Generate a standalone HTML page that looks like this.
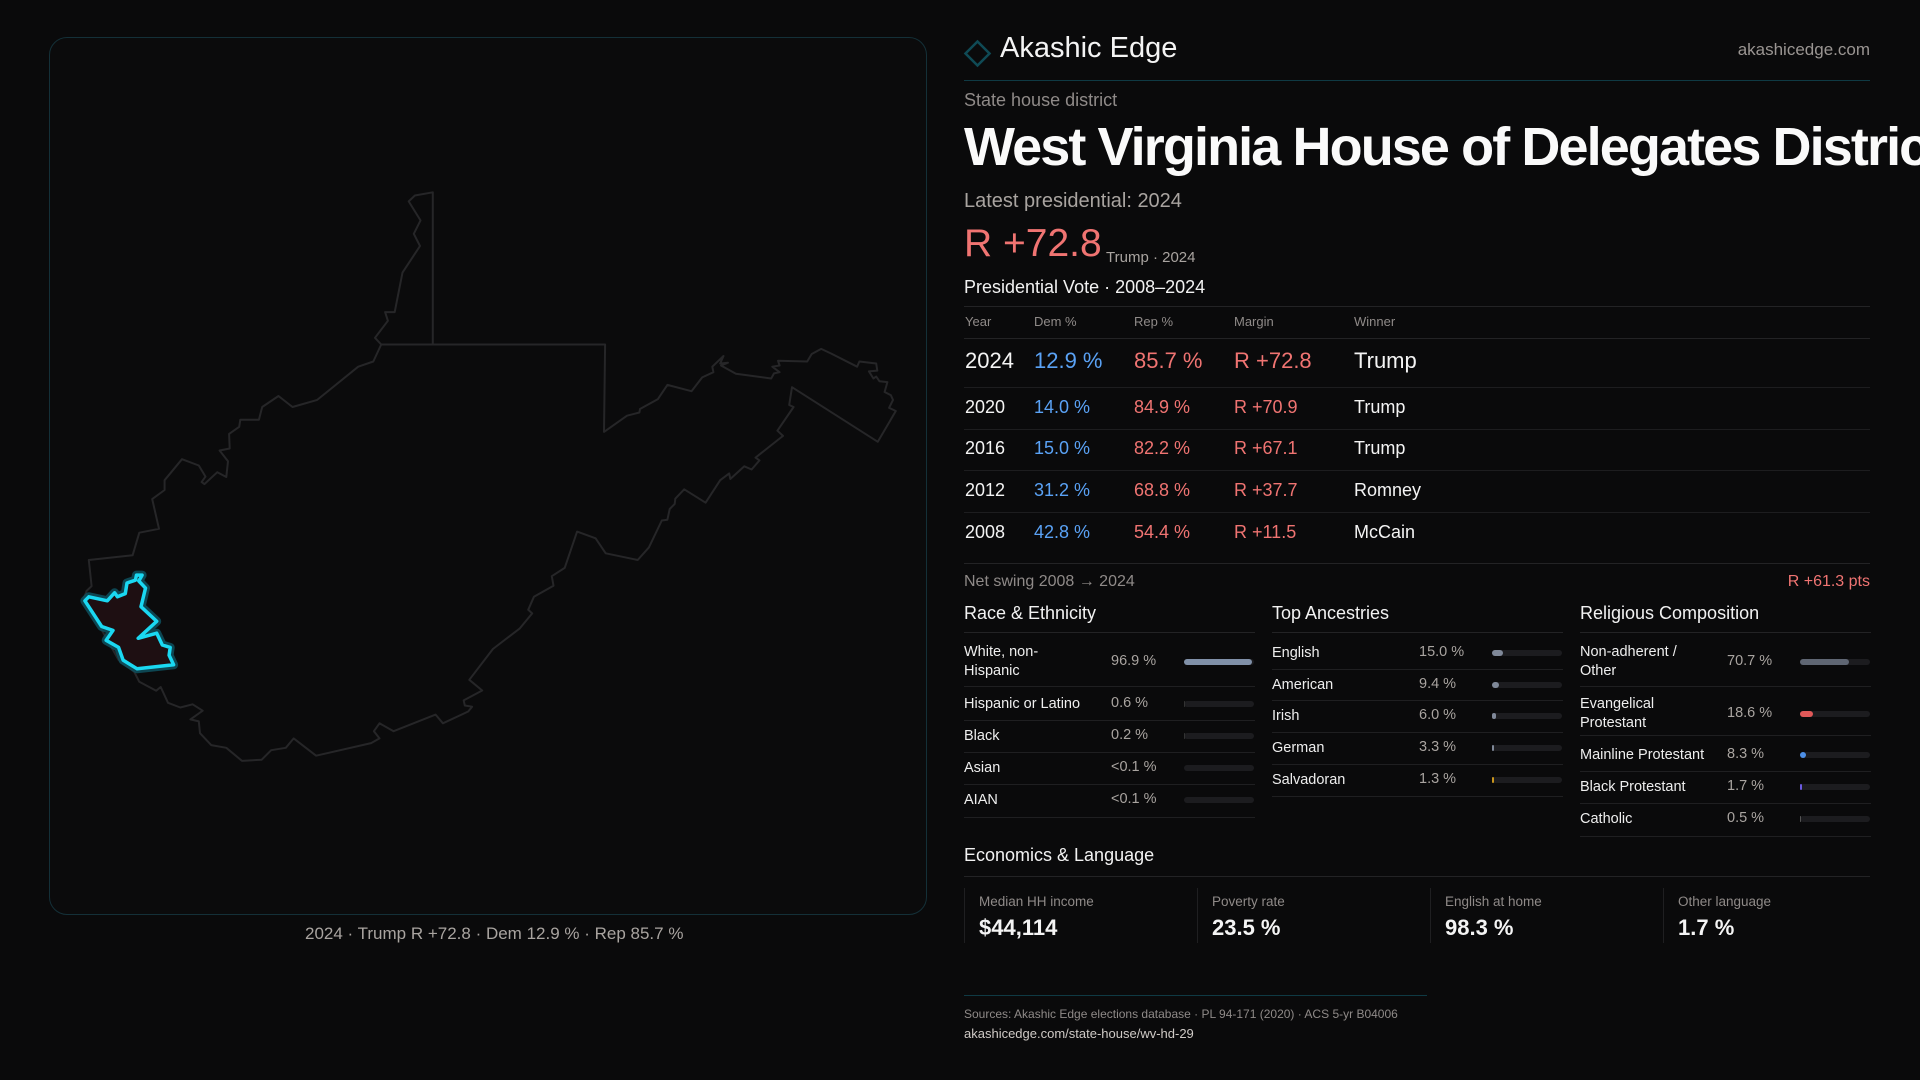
<!DOCTYPE html>
<html><head><meta charset="utf-8">
<style>
*{margin:0;padding:0;box-sizing:border-box}
body{width:1920px;height:1080px;background:#0a0a0b;overflow:hidden;position:relative;font-family:"Liberation Sans",sans-serif;color:#f2f2f2}
.a{position:absolute;white-space:nowrap}
.g{color:#8f8a88}
.sep{position:absolute;height:1px;background:#232325}
.red{color:#f07472}.blue{color:#5aa2f5}
</style></head><body>
<div class="a" style="left:49px;top:37px;width:878px;height:878px;border:1px solid #143038;border-radius:18px;background:#0b0b0c"></div>
<svg class="a" style="left:0;top:0" width="1920" height="1080" viewBox="0 0 1920 1080">
<path fill="none" stroke="#262628" stroke-width="2" stroke-linejoin="round" d="M381.2,344.5 L375,337.8 387.9,320.8 385.1,312.1 394.7,312.1 402.5,272.6 420,246 413.8,233.8 420.5,220.4 408.7,201.4 414.9,195.5 432.8,192.3 432.8,344.5 M381.2,344.5 L605.1,344.5 604,431.9 627,415.7 639.4,412.5 640,409 657.9,399.1 667.4,384.9 691.5,391.2 702.2,377.4 713.4,372.2 712.3,366.7 723.5,356 720.2,363.5 728,362.7 721,365.5 735.9,373.8 771.2,378.5 774,373.4 779.6,372.2 772.3,366.7 779.6,365.5 778,360.8 807.2,361.5 811.7,354 821.2,348.9 831.3,353.6 857.1,366.7 859.4,361.5 876.2,363.5 877.3,370.6 868.9,371.4 873.4,378.5 876.2,376.6 879.5,381.3 887.4,382.1 884.6,392 890.8,395.1 893,399.9 889.1,407.8 895.8,411 877.8,441.8 792,387.2 789.2,405 793.6,407 777.4,430.7 783,435.9 755.5,457.6 759.5,460.4 751.6,469.5 744.3,466.3 730.3,479 729.2,473.4 720.2,480.2 705.6,502.7 684.2,489.3 675.3,498.7 674.7,503.9 669.7,509 667.4,519.7 661.8,520.5 648.9,547.4 637.7,560 605.7,553.3 595.6,538.3 577.1,531.6 564.7,567.9 551.8,576.2 553.5,585.7 533.9,596.8 528.2,609.8 532.2,613.4 519.8,628.4 492.9,649 469.3,679.8 482.2,690.5 463.7,700.4 464.8,705.5 472.1,706.7 468.2,711.5 442.9,723.3 435.6,714.6 393.6,731.2 379.5,723.3 373.9,731.2 379.5,738.4 371.1,743.1 316.1,755.7 293.7,738.4 285.8,747.8 271.2,750.2 261.7,759.7 242,760.9 226.3,747.8 211.2,745.1 200,733.2 198.8,721.4 190.4,719.4 202.7,710.7 192.6,704.3 180.3,707.5 168,702.8 160.7,687 156.2,690.7 139.3,681.8 134.3,672 118.6,660 101.7,630 84,598 86.6,590.9 91.6,586.1 88.8,560 132.6,555.3 139.3,532.7 159,528.8 152.2,499.1 164.6,490 164.6,480.2 182,459.2 198.8,465.5 205.5,476.6 201.6,482.1 204.4,484.1 217.3,472.2 226.3,477 228,461.2 219.6,450.5 229.7,448.5 229.1,433.9 239.2,426.8 240.3,419.7 258.9,419.7 262.2,407 278.5,396 292.5,407 317.2,399.9 358.2,366.7 373.3,361.5 Z"/>
<path fill="none" stroke="#0e5564" stroke-width="9" stroke-linejoin="round" opacity="0.8" d="M136.5,575.1 142.1,575.1 138.8,581 145.5,588.1 141,606.7 156.7,621.3 138.2,638.3 156.7,633.2 162.3,645 170.2,647.4 169.1,655.3 173.6,664.8 137.1,668.8 123.1,660.1 118.6,647.4 106.2,640.3 113,630.4 101.7,626.5 84.9,600.8 88.8,596.8 107.3,600.8 114.6,592.8 117.4,596.8 125.3,593.6 127,583 135.4,580.2Z"/>
<path fill="#1e0f12" stroke="#1ad8f2" stroke-width="3.5" stroke-linejoin="round" d="M136.5,575.1 142.1,575.1 138.8,581 145.5,588.1 141,606.7 156.7,621.3 138.2,638.3 156.7,633.2 162.3,645 170.2,647.4 169.1,655.3 173.6,664.8 137.1,668.8 123.1,660.1 118.6,647.4 106.2,640.3 113,630.4 101.7,626.5 84.9,600.8 88.8,596.8 107.3,600.8 114.6,592.8 117.4,596.8 125.3,593.6 127,583 135.4,580.2Z"/>
<rect x="969" y="45" width="17" height="17" transform="rotate(45 977.5 53.5)" fill="none" stroke="#0f4a55" stroke-width="2.5"/>
</svg>
<div class="a g" style="left:305px;top:924px;font-size:17px;color:#a9a4a0">2024 · Trump R +72.8 · Dem 12.9 % · Rep 85.7 %</div>

<div class="a" style="left:1000px;top:32px;font-size:29px;font-weight:500;color:#f4f4f4">Akashic Edge</div>
<div class="a g" style="right:50px;top:40px;font-size:17px;color:#9a9592">akashicedge.com</div>
<div class="sep" style="left:964px;top:80px;width:906px;background:#0f3a44"></div>
<div class="a g" style="left:964px;top:90px;font-size:18px">State house district</div>
<div class="a" style="left:964px;top:112px;width:956px;height:70px;overflow:hidden">
<div class="a" style="left:0;top:4px;font-size:54px;font-weight:bold;letter-spacing:-1.9px;color:#fafafa">West Virginia House of Delegates District 29</div>
</div>
<div class="a g" style="left:964px;top:190px;font-size:20px;color:#a9a4a0">Latest presidential: 2024</div>
<div class="a red" style="left:964px;top:222px;font-size:39px;font-weight:500">R +72.8</div>
<div class="a g" style="left:1106px;top:249px;font-size:15px;color:#a9a4a0">Trump · 2024</div>
<div class="a" style="left:964px;top:277px;font-size:18px;font-weight:500">Presidential Vote · 2008–2024</div>
<div class="sep" style="left:964px;top:306px;width:906px"></div>
<div class="sep" style="left:964px;top:563px;width:906px"></div>
<div class="a g" style="left:964px;top:573px;font-size:16px">Net swing 2008 → 2024</div>
<div class="a red" style="right:50px;top:573px;font-size:16px">R +61.3 pts</div>

<div class="a" style="left:964px;top:603px;font-size:18px;font-weight:500">Race &amp; Ethnicity</div>
<div class="a" style="left:1272px;top:603px;font-size:18px;font-weight:500">Top Ancestries</div>
<div class="a" style="left:1580px;top:603px;font-size:18px;font-weight:500">Religious Composition</div>

<div class="a" style="left:964px;top:845px;font-size:18px;font-weight:500">Economics &amp; Language</div>
<div class="sep" style="left:964px;top:876px;width:906px"></div>
<div class="sep" style="left:964px;top:995px;width:463px;background:#0f3a44"></div>
<div class="a g" style="left:964px;top:1007px;font-size:12px">Sources: Akashic Edge elections database · PL 94-171 (2020) · ACS 5-yr B04006</div>
<div class="a" style="left:964px;top:1026px;font-size:13px;color:#cfcac6">akashicedge.com/state-house/wv-hd-29</div>

<script>
const years=["2024","2020","2016","2012","2008"];
const demPct=[12.9,14.0,15.0,31.2,42.8];
const repPct=[85.7,84.9,82.2,68.8,54.4];
const margins=[72.8,70.9,67.1,37.7,11.5];
const winners=["Trump","Trump","Trump","Romney","McCain"];
const raceLabels=["White, non-\nHispanic","Hispanic or Latino","Black","Asian","AIAN"];
const raceValues=[96.9,0.6,0.2,0.05,0.05];
const raceText=["96.9 %","0.6 %","0.2 %","<0.1 %","<0.1 %"];
const ancLabels=["English","American","Irish","German","Salvadoran"];
const ancValues=[15.0,9.4,6.0,3.3,1.3];
const ancColors=["#7f8898","#7f8898","#7f8898","#7f8898","#c9951e"];
const relLabels=["Non-adherent /\nOther","Evangelical\nProtestant","Mainline Protestant","Black Protestant","Catholic"];
const relValues=[70.7,18.6,8.3,1.7,0.5];
const relColors=["#5f6673","#e05858","#4d8fe6","#6b5ae0","#555"];
const econLabels=["Median HH income","Poverty rate","English at home","Other language"];
const econValues=["$44,114","23.5 %","98.3 %","1.7 %"];

function mk(parent,css,text){const d=document.createElement('div');d.className='a';d.style.cssText=css;if(text!==undefined)d.textContent=text;parent.appendChild(d);return d;}
const body=document.body;
const cols=[965,1034,1134,1234,1354];
const heads=["Year","Dem %","Rep %","Margin","Winner"];
heads.forEach((h,i)=>{const e=mk(body,`left:${cols[i]}px;top:314px;font-size:13px;color:#8f8a88`,h);

});
const hr=mk(body,'left:964px;top:338px;width:906px;height:1px;background:#232325');


const rowY=[361,408,449,491,533];
years.forEach((y,i)=>{
 const fs=i===0?22:18, top=rowY[i]-fs*0.6;
 const cells=[y,demPct[i].toFixed(1)+" %",repPct[i].toFixed(1)+" %","R +"+margins[i].toFixed(1),winners[i]];
 const colors=["#f4f4f4","#5aa2f5","#f07472","#f07472","#f4f4f4"];
 cells.forEach((c,j)=>{const e=mk(body,`left:${cols[j]}px;top:${top}px;font-size:${fs}px;font-weight:500;color:${colors[j]}`,c);
 
 });
 if(i<4){const s=mk(body,`left:964px;top:${[387,429,470,512][i]}px;width:906px;height:1px;background:#1d1d1f`);
 
 }
});
function col(x,labels,vals,texts,colors,rowsY,sepY,name){
 labels.forEach((l,i)=>{
  const two=l.includes('\n');
  const lab=mk(body,`left:${x}px;top:${rowsY[i]-(two?19:9)}px;font-size:14.5px;font-weight:500;line-height:19px;white-space:pre;color:#eee`,l);
  
  
  const v=mk(body,`left:${x+147}px;top:${rowsY[i]-9}px;font-size:14.5px;color:#a9a4a0`,texts[i]);
  
  
  const tr=mk(body,`left:${x+220}px;top:${rowsY[i]-3}px;width:70px;height:6px;border-radius:3px;background:#1c1c1f`);
  
  
  const w=Math.max(vals[i]/100*70, vals[i]>=1?2:0);
  const f=mk(tr,`left:0;top:0;height:6px;width:${w}px;border-radius:3px;background:${colors[i]}`);
  
  
  const s=mk(body,`left:${x}px;top:${sepY[i]}px;width:291px;height:1px;background:#1f1f21`);
  
  
 });
 const t=mk(body,`left:${x}px;top:632px;width:291px;height:1px;background:#232325`);
 
 
}
col(964,raceLabels,raceValues,raceText,["#8090a8","#333","#333","#333","#333"],[662,704,736,768,800],[686,720,752,784,817],'race');
col(1272,ancLabels,ancValues,ancValues.map(v=>v.toFixed(1)+" %"),ancColors,[653,685,716,748,780],[669,700,732,764,796],'ancestry');
col(1580,relLabels,relValues,relValues.map(v=>v.toFixed(1)+" %"),relColors,[662,714,755,787,819],[686,735,771,803,836],'religion');
const cx=[964,1197,1430,1663];
econLabels.forEach((l,i)=>{
 const c=mk(body,`left:${cx[i]}px;top:888px;width:1px;height:55px;background:#1f1f21`);
 
 
 const a=mk(body,`left:${cx[i]+15}px;top:894px;font-size:13.5px;color:#8f8a88`,l);
 
 
 const b=mk(body,`left:${cx[i]+15}px;top:915px;font-size:22px;font-weight:bold;color:#f4f4f4`,econValues[i]);
 
 
});
</script>
</body></html>
